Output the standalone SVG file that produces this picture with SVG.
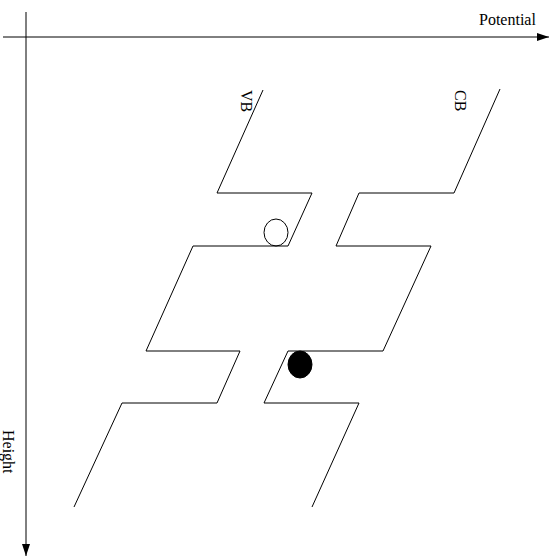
<svg xmlns="http://www.w3.org/2000/svg" width="554" height="557" viewBox="0 0 554 557">
<style>
.ln{fill:none;stroke:#000;stroke-width:1}
.t{font-family:"Liberation Serif","Times New Roman",serif;font-size:16px;fill:#000}
</style>
<defs>
<marker id="ah" viewBox="0 0 12 8" refX="12" refY="4" markerWidth="12" markerHeight="8" markerUnits="userSpaceOnUse" orient="auto">
<path d="M0,0 L12,4 L0,8 z" fill="#000"/>
</marker>
</defs>
<rect width="554" height="557" fill="#fff"/>
<g id="connectors">
<line id="axis-potential" class="ln" x1="3" y1="37" x2="549" y2="37" marker-end="url(#ah)"/>
<line id="axis-height" class="ln" x1="26" y1="12" x2="26" y2="556" marker-end="url(#ah)"/>
</g>
<g id="vb">
<polyline class="ln" points="263,90 217,193 312,193 288,246 193,246 146,351 240,351 217,403 122,403 74,507"/>
<text class="t" transform="translate(241,90) rotate(90)">VB</text>
</g>
<g id="cb">
<polyline class="ln" points="500,89 454,193 359,193 336,246 431,246 383,351 288,351 264,403 359,403 312,507"/>
<text class="t" transform="translate(455,90) rotate(90)">CB</text>
</g>
<g id="hole">
<ellipse class="ln" cx="276" cy="232.5" rx="12" ry="13.5"/>
</g>
<g id="electron">
<ellipse cx="300" cy="364.5" rx="12" ry="13.5" fill="#000" stroke="#000"/>
</g>
<g id="label-potential"><text class="t" x="479" y="25">Potential</text></g>
<g id="label-height"><text class="t" transform="translate(3,430) rotate(90)">Height</text></g>
</svg>
